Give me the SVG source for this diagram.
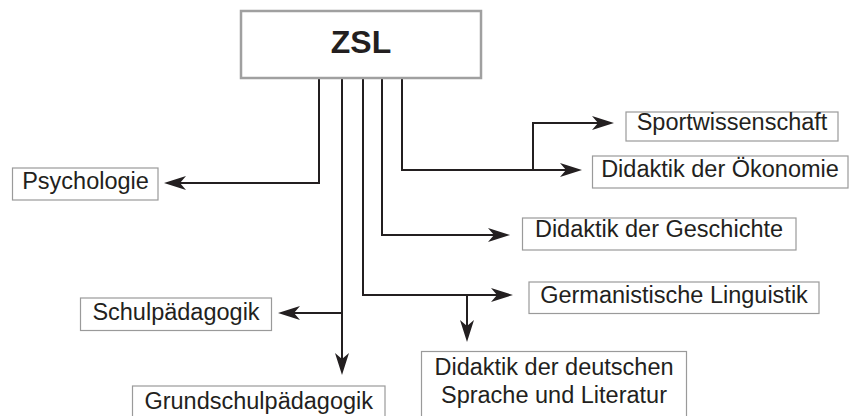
<svg xmlns="http://www.w3.org/2000/svg" width="850" height="416" viewBox="0 0 850 416">
<style>
.box{fill:#fff;stroke:#9a9a9a;stroke-width:1.2}
.main{fill:#fff;stroke:#a0a0a0;stroke-width:2.5}
.t{font-family:"Liberation Sans",Arial,sans-serif;font-size:23.5px;fill:#231f20;text-anchor:middle}
.tz{font-family:"Liberation Sans",Arial,sans-serif;font-size:32px;font-weight:bold;fill:#231f20;text-anchor:middle}
.c{fill:none;stroke:#231f20;stroke-width:2;marker-end:url(#ah)}
</style>
<defs>
<marker id="ah" markerUnits="userSpaceOnUse" viewBox="0 0 22 14" refX="6" refY="7" markerWidth="22" markerHeight="14" orient="auto">
<path d="M0,0 L22,7 L0,14 L6,7 Z" fill="#231f20"/>
</marker>
</defs>
<rect width="850" height="416" fill="#fff"/>
<g id="connectors">
<path class="c" d="M319,78 V183 H180"/>
<path class="c" d="M402,78 V170 H566"/>
<path class="c" d="M533,170 V123 H598"/>
<path class="c" d="M382,78 V235 H494"/>
<path class="c" d="M363,78 V295 H497"/>
<path class="c" d="M467,295 V326"/>
<path class="c" d="M342,78 V359"/>
<path class="c" d="M342,313 H294"/>
</g>
<g id="zsl">
<rect class="main" x="241" y="11" width="240" height="67"/>
<text class="tz" x="361" y="53">ZSL</text>
</g>
<g id="psychologie">
<rect class="box" x="12.5" y="168" width="145.5" height="32"/>
<text class="t" x="85.5" y="188.5">Psychologie</text>
</g>
<g id="sportwissenschaft">
<rect class="box" x="626" y="112" width="212" height="29"/>
<text class="t" x="732" y="130">Sportwissenschaft</text>
</g>
<g id="oekonomie">
<rect class="box" x="592.5" y="156" width="255.5" height="32"/>
<text class="t" x="720" y="176.5">Didaktik der Ökonomie</text>
</g>
<g id="geschichte">
<rect class="box" x="522.5" y="218" width="273.5" height="32"/>
<text class="t" x="659" y="237">Didaktik der Geschichte</text>
</g>
<g id="linguistik">
<rect class="box" x="529" y="282" width="290" height="31.5"/>
<text class="t" x="674" y="302.5">Germanistische Linguistik</text>
</g>
<g id="deutsch">
<rect class="box" x="421.5" y="351.5" width="265" height="66"/>
<text class="t" x="554" y="375">Didaktik der deutschen</text>
<text class="t" x="554" y="403">Sprache und Literatur</text>
</g>
<g id="schulpaedagogik">
<rect class="box" x="80.5" y="298" width="191" height="32.5"/>
<text class="t" x="176" y="320">Schulpädagogik</text>
</g>
<g id="grundschulpaedagogik">
<rect class="box" x="132.5" y="386" width="252.5" height="32"/>
<text class="t" x="258.75" y="408.5">Grundschulpädagogik</text>
</g>
</svg>
